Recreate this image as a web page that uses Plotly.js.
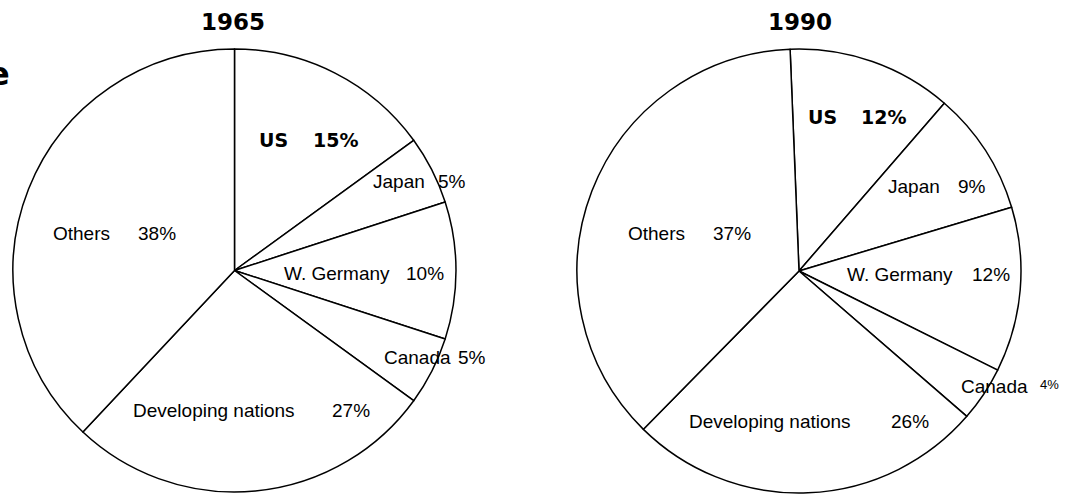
<!DOCTYPE html>
<html>
<head>
<meta charset="utf-8">
<script src="https://cdn.plot.ly/plotly-3.0.1.min.js"></script>
<style>
  html, body { margin: 0; padding: 0; background: #ffffff; }
  #chart { width: 1080px; height: 494px; }
</style>
</head>
<body>
<div id="chart"></div>
<script>
// ---- data ----
var categories = ["US", "Japan", "W. Germany", "Canada", "Developing nations", "Others"];
var share1965 = [15, 5, 10, 5, 27, 38];
var share1990 = [12, 9, 12, 4, 26, 37];
var years = ["1965", "1990"];

// ---- label placement (pixels: name left x, value left x, center y) ----
var labelPos1965 = [
  [257, 311, 140.5],
  [371, 436, 181.5],
  [282, 404, 273],
  [382, 456, 357],
  [131, 330, 410.5],
  [51, 136, 233.5]
];
var labelPos1990 = [
  [806, 859, 117],
  [886, 956, 187],
  [845, 970, 274],
  [959, 1038, 386],
  [687, 889, 421],
  [626, 711, 233]
];

var W = 1080, H = 494;
function px(x) { return x / W; }
function py(y) { return 1 - y / H; }

var regFont = "Liberation Sans, Arial, sans-serif";
var boldFont = "DejaVu Sans, Liberation Sans, sans-serif";

function pieTrace(vals, dom, rot) {
  return {
    type: "pie",
    values: vals,
    labels: categories,
    sort: false,
    direction: "clockwise",
    rotation: rot,
    domain: dom,
    marker: {
      colors: categories.map(function () { return "#ffffff"; }),
      line: { color: "#000000", width: 1.5 }
    },
    textinfo: "none",
    hoverinfo: "none",
    showlegend: false
  };
}

var data = [
  pieTrace(share1965, { x: [px(13), px(456)], y: [2 / H, 445 / H] }, 0),
  pieTrace(share1990, { x: [px(577), px(1021)], y: [1 / H, 445 / H] }, -2.3)
];

var annotations = [];
function addLabels(vals, pos, smallIdx) {
  for (var i = 0; i < categories.length; i++) {
    var isUS = i === 0;
    var f = isUS
      ? { family: boldFont, size: 19, color: "#000" }
      : { family: regFont, size: 19, color: "#000" };
    annotations.push({
      xref: "paper", yref: "paper", x: px(pos[i][0]), y: py(pos[i][2]),
      xanchor: "left", yanchor: "middle", showarrow: false,
      text: isUS ? "<b>" + categories[i] + "</b>" : categories[i], font: f
    });
    var small = (i === smallIdx);
    var vf = { family: f.family, size: small ? 13 : f.size, color: "#000" };
    annotations.push({
      xref: "paper", yref: "paper", x: px(pos[i][1]), y: py(pos[i][2] + (small ? -2 : 0)),
      xanchor: "left", yanchor: "middle", showarrow: false,
      text: isUS ? "<b>" + vals[i] + "%</b>" : vals[i] + "%", font: vf
    });
  }
}
addLabels(share1965, labelPos1965, -1);
addLabels(share1990, labelPos1990, 3);

// titles
annotations.push({
  xref: "paper", yref: "paper", x: px(233), y: py(22), xanchor: "center", yanchor: "middle",
  showarrow: false, text: "<b>" + years[0] + "</b>", font: { family: boldFont, size: 23, color: "#000" }
});
annotations.push({
  xref: "paper", yref: "paper", x: px(800), y: py(22), xanchor: "center", yanchor: "middle",
  showarrow: false, text: "<b>" + years[1] + "</b>", font: { family: boldFont, size: 23, color: "#000" }
});
// cut-off heading letter at the left edge (as in the reference)
annotations.push({
  xref: "paper", yref: "paper", x: px(12), y: py(74), xanchor: "right", yanchor: "middle",
  showarrow: false, text: "<b>e</b>", font: { family: boldFont, size: 32, color: "#000" }
});

var layout = {
  width: W, height: H,
  margin: { l: 0, r: 0, t: 0, b: 0 },
  paper_bgcolor: "#ffffff",
  plot_bgcolor: "#ffffff",
  showlegend: false,
  annotations: annotations
};

Plotly.newPlot("chart", data, layout, { displayModeBar: false, staticPlot: true });
</script>
</body>
</html>
